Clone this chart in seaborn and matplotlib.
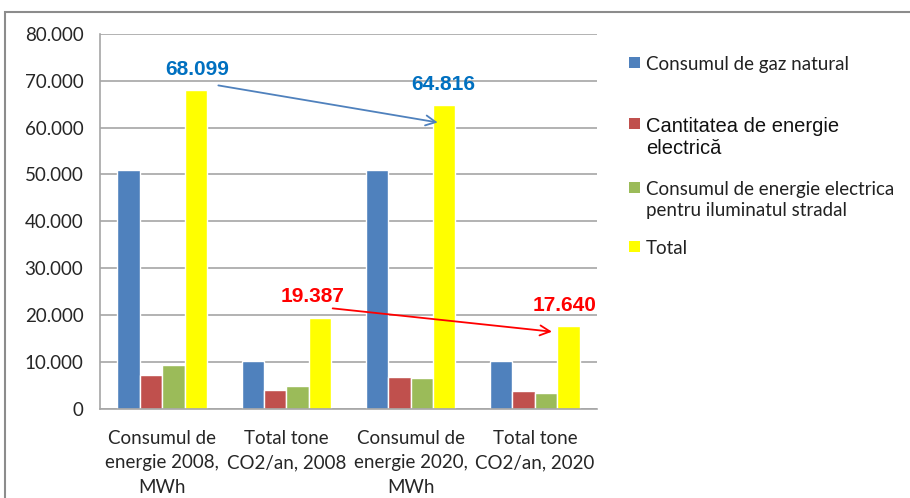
import pandas as pd
import matplotlib.pyplot as plt
import seaborn as sns
from matplotlib.ticker import FuncFormatter, FixedLocator
from matplotlib.patches import Rectangle

# data
categories = ["Consumul de\nenergie 2008,\nMWh", "Total tone\nCO2/an, 2008",
              "Consumul de\nenergie 2020,\nMWh", "Total tone\nCO2/an, 2020"]
series = ["Consumul de gaz natural", "Cantitatea de energie\nelectrică",
          "Consumul de energie electrica\npentru iluminatul stradal", "Total"]
gaz = [51000, 10300, 51000, 10300]
electrica = [7300, 4050, 6900, 3800]
iluminat = [9400, 4900, 6500, 3350]
total = [68099, 19387, 64816, 17640]
colors = ["#4F81BD", "#C0504D", "#9BBB59", "#FFFF00"]

rows = []
for s, vals in zip(series, [gaz, electrica, iluminat, total]):
    for c, v in zip(categories, vals):
        rows.append({"cat": c, "series": s, "val": v})
df = pd.DataFrame(rows)

sns.set_style("white")
plt.rcParams['font.family'] = ['Lato', 'DejaVu Sans']

W, H = 910, 498
fig = plt.figure(figsize=(W / 100, H / 100), dpi=100)
ax = fig.add_axes([0.11, 0.179, 0.546, 0.753])

sns.barplot(data=df, x="cat", y="val", hue="series", palette=colors,
            width=0.72, saturation=1, ax=ax, legend=False)

ax.set_xlim(-0.5, 3.5)
ax.set_ylim(0, 80000)
ax.set_yticks(range(0, 80001, 10000))
ax.yaxis.set_major_formatter(FuncFormatter(
    lambda v, p: "0" if v == 0 else f"{int(v):,}".replace(",", ".")))
ax.grid(axis="y", color="#A6A6A6", linewidth=1.2)
ax.set_axisbelow(True)
ax.set_xlabel("")
ax.set_ylabel("")
for sp in ["top", "right"]:
    ax.spines[sp].set_visible(False)
for sp in ["left", "bottom"]:
    ax.spines[sp].set_color("#A6A6A6")
    ax.spines[sp].set_linewidth(1.2)

ax.tick_params(axis="x", which="major", length=0, pad=15, labelsize=13.5)
ax.xaxis.set_minor_locator(FixedLocator([-0.5, 0.5, 1.5, 2.5, 3.5]))
ax.tick_params(axis="x", which="minor", length=6, color="#A6A6A6", width=1.2)
ax.tick_params(axis="y", length=5, color="#A6A6A6", width=1.2, labelsize=13.5, pad=7)
for t in ax.get_xticklabels():
    t.set_linespacing(1.55)

# annotations
blue_txt = "#0070C0"
ax.text(0.28, 72300, "68.099", color=blue_txt, fontsize=15, fontweight="bold",
        ha="center", va="center", family=["Liberation Sans"])
ax.text(2.26, 69100, "64.816", color=blue_txt, fontsize=15, fontweight="bold",
        ha="center", va="center", family=["Liberation Sans"])
ax.annotate("", xy=(2.24, 61000), xytext=(0.43, 69100),
            arrowprops=dict(arrowstyle="->", color="#4F81BD", lw=1.3,
                            mutation_scale=18))
ax.text(1.21, 23900, "19.387", color="red", fontsize=15, fontweight="bold",
        ha="center", va="center", family=["Liberation Sans"])
ax.text(3.24, 22000, "17.640", color="red", fontsize=15, fontweight="bold",
        ha="center", va="center", family=["Liberation Sans"])
ax.annotate("", xy=(3.16, 16400), xytext=(1.35, 21500),
            arrowprops=dict(arrowstyle="->", color="red", lw=1.3,
                            mutation_scale=18))

# legend (placed like the Excel one: fixed slots)
legend_y = [63, 124, 188, 247]
for s, c, y0 in zip(series, colors, legend_y):
    fig.add_artist(Rectangle((629 / W, 1 - (y0 + 5.5) / H), 11 / W, 11 / H,
                             transform=fig.transFigure, facecolor=c, edgecolor="none"))
    bold = s.startswith("Cantitatea")
    for i, line in enumerate(s.split("\n")):
        step = 22 if bold else 21
        fig.text(646 / W, 1 - (y0 + i * step) / H, line, ha="left", va="center_baseline",
                 fontsize=14.5 if bold else 13.5, color="#111111" if bold else "#222222",
                 family=["Liberation Sans"] if bold else ["Lato"])

# frame
fig.add_artist(Rectangle((5 / W, -0.05), 1.0, 1.05 - 12 / H,
                         transform=fig.transFigure, fill=False,
                         edgecolor="#8C8C8C", linewidth=1.5))

fig.savefig("out.png", dpi=100)
